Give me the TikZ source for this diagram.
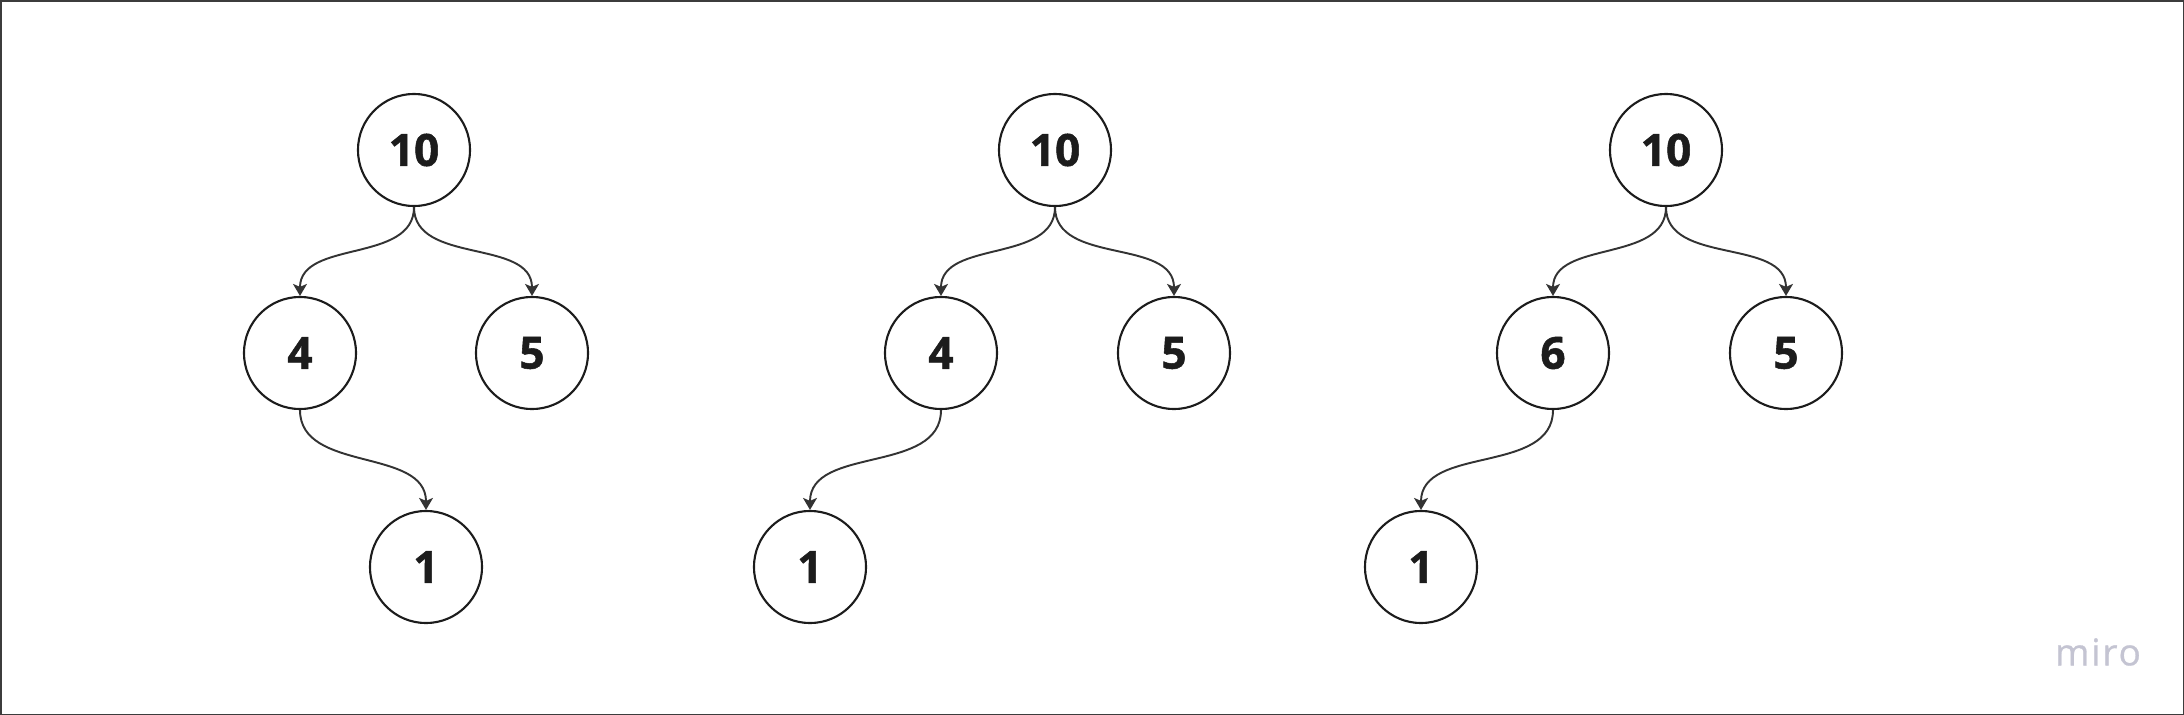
\documentclass[tikz,border=0pt]{standalone}
\usepackage{fontspec}
\setmainfont{Open Sans}
\usepackage{tikz}
\usetikzlibrary{positioning}
\usetikzlibrary{arrows.meta}
\definecolor{inkgray}{HTML}{1c1c1c}
\definecolor{edgegray}{HTML}{333333}
\definecolor{framegray}{HTML}{3c3c3c}
\definecolor{mirogray}{HTML}{c4c4d2}
\tikzset {
  % circled vertex style
  main/.style = {draw=inkgray, circle, line width=0.6pt, minimum size=1.12cm, inner sep=0pt,
    text=inkgray, font=\fontsize{12.6}{14}\selectfont\bfseries\addfontfeatures{FakeBold=1.2}},
  % parent to child edges
  edge/.style = {edgegray, line width=0.55pt, -{Stealth[length=0.12cm, width=0.14cm, inset=0.03cm]}},
}

\begin{document}
\begin{tikzpicture}[x=0.01cm, y=-0.01cm]
        \useasboundingbox (0,0) rectangle (2184,715);
        \draw[framegray, line width=0.015cm] (0.75,0.75) rectangle (2183.25,714.25);

        % first tree
        \node[main] (1) at (414,150) {10};
        \node[main] (2) at (300,353) {4};
        \node[main] (3) at (532,353) {5};
        \node[main] (4) at (426,567) {1};

        % second tree
        \node[main] (5) at (1055,150) {10};
        \node[main] (6) at (941,353) {4};
        \node[main] (7) at (1174,353) {5};
        \node[main] (8) at (810,567) {1};

        % third tree
        \node[main] (9) at (1666,150) {10};
        \node[main] (10) at (1553,353) {6};
        \node[main] (11) at (1786,353) {5};
        \node[main] (12) at (1421,567) {1};

        \draw[edge] (1.south) to[out=-90, in=90] (2.north);
        \draw[edge] (1.south) to[out=-90, in=90] (3.north);
        \draw[edge] (2.south) to[out=-90, in=90] (4.north);

        \draw[edge] (5.south) to[out=-90, in=90] (6.north);
        \draw[edge] (5.south) to[out=-90, in=90] (7.north);
        \draw[edge] (6.south) to[out=-90, in=90] (8.north);

        \draw[edge] (9.south) to[out=-90, in=90] (10.north);
        \draw[edge] (9.south) to[out=-90, in=90] (11.north);
        \draw[edge] (10.south) to[out=-90, in=90] (12.north);

        \node[mirogray, font=\fontsize{10.5}{12}\selectfont\addfontfeatures{LetterSpace=5, FakeBold=0.8}] (miro) at (2098,652) {miro};
      \end{tikzpicture}
\end{document}
